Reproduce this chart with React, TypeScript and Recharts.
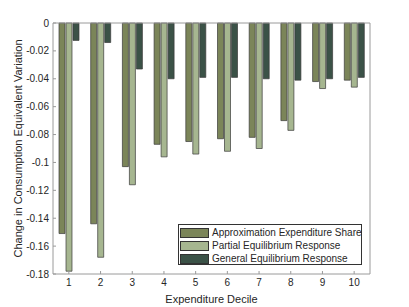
import React from 'react';
import { BarChart, Bar, XAxis, YAxis } from 'recharts';

const deciles = ['1', '2', '3', '4', '5', '6', '7', '8', '9', '10'];
const approxShare = [-0.151, -0.144, -0.103, -0.087, -0.085, -0.083, -0.082, -0.07, -0.042, -0.041];
const partialEq = [-0.178, -0.168, -0.116, -0.096, -0.094, -0.092, -0.09, -0.077, -0.047, -0.046];
const generalEq = [-0.0125, -0.014, -0.033, -0.04, -0.039, -0.039, -0.04, -0.041, -0.04, -0.039];
const yTicks = [-0.18, -0.16, -0.14, -0.12, -0.1, -0.08, -0.06, -0.04, -0.02, 0];

const SERIES = [
  { key: 'approx', name: 'Approximation Expenditure Share', color: '#7b8559' },
  { key: 'partial', name: 'Partial Equilibrium Response', color: '#a6b690' },
  { key: 'general', name: 'General Equilibrium Response', color: '#3b5247' }
];

const data = deciles.map((d, i) => ({
  decile: d,
  approx: approxShare[i],
  partial: partialEq[i],
  general: generalEq[i]
}));

const FONT = 'Liberation Sans, Arial, sans-serif';
const AXIS = '#9a9a9a';
const TEXT = '#262626';

const fmt = (v: number) => (v === 0 ? '0' : String(v));

// legend box drawn over the chart, bottom right like the MATLAB one
const LegendBox = () => (
  <div
    style={{
      position: 'absolute',
      left: 178,
      top: 224,
      width: 184,
      height: 41,
      border: '1px solid #333',
      background: '#fff',
      padding: '1px 1px',
      fontFamily: FONT,
      fontSize: 10,
      lineHeight: '13px',
      color: TEXT,
      boxSizing: 'border-box'
    }}
  >
    {SERIES.map((s) => (
      <div key={s.key} style={{ display: 'flex', alignItems: 'center', height: 13 }}>
        <span
          style={{
            display: 'inline-block',
            width: 29,
            height: 10,
            boxSizing: 'border-box',
            background: s.color,
            border: '1px solid #333',
            marginRight: 3,
            flexShrink: 0
          }}
        />
        <span style={{ whiteSpace: 'nowrap' }}>{s.name}</span>
      </div>
    ))}
  </div>
);

export default function App() {
  return (
    <div style={{ position: 'absolute', left: 0, top: 0, width: 409, height: 307, background: '#fff' }}>
      <BarChart
        width={409}
        height={307}
        data={data}
        margin={{ top: 22, right: 38, bottom: 0, left: 0 }}
        barGap={1}
        barSize={6}
      >
        <XAxis
          dataKey="decile"
          stroke={AXIS}
          tickSize={-3}
          tickMargin={8}
          height={33}
          tick={{ fill: TEXT, fontSize: 10, fontFamily: FONT }}
          label={{
            value: 'Expenditure Decile',
            position: 'insideBottom',
            offset: 4,
            fill: TEXT,
            fontSize: 11,
            fontFamily: FONT
          }}
        />
        <XAxis
          xAxisId="top"
          dataKey="decile"
          orientation="top"
          stroke={AXIS}
          tickSize={-3}
          height={1}
          tick={false}
        />
        <YAxis
          domain={[-0.18, 0]}
          ticks={yTicks}
          stroke={AXIS}
          width={53}
          tickSize={-3}
          tickMargin={7}
          tickFormatter={fmt}
          interval={0}
          tick={{ fill: TEXT, fontSize: 10, fontFamily: FONT }}
          label={{
            value: 'Change in Consumption Equivalent Variation',
            angle: -90,
            position: 'insideLeft',
            offset: 18,
            fill: TEXT,
            fontSize: 11,
            fontFamily: FONT,
            style: { textAnchor: 'middle' }
          }}
        />
        <YAxis
          yAxisId="right"
          orientation="right"
          domain={[-0.18, 0]}
          ticks={yTicks}
          stroke={AXIS}
          width={1}
          tickSize={-3}
          interval={0}
          tick={false}
        />
        {SERIES.map((s) => (
          <Bar
            key={s.key}
            dataKey={s.key}
            name={s.name}
            fill={s.color}
            stroke="#3a3a3a"
            strokeWidth={0.7}
            isAnimationActive={false}
          />
        ))}
      </BarChart>
      <LegendBox />
    </div>
  );
}
